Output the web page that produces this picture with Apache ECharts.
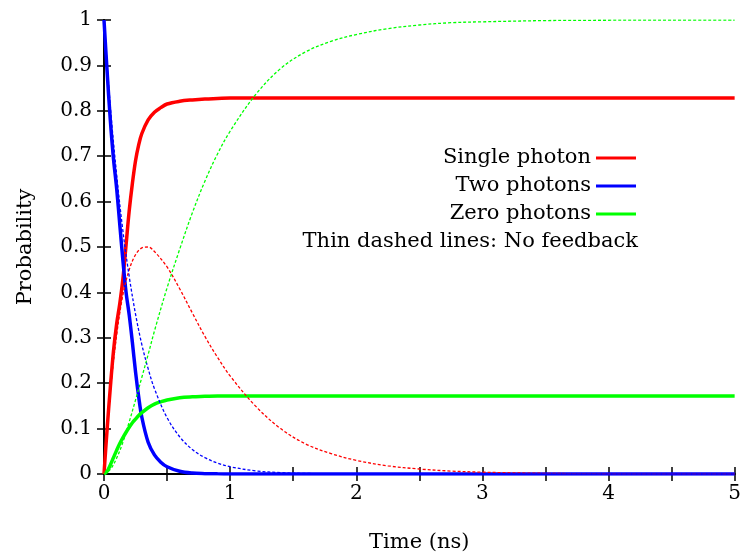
<!DOCTYPE html>
<html><head><meta charset="utf-8">
<script src="https://cdn.jsdelivr.net/npm/echarts@6/dist/echarts.min.js"></script>
<style>html,body{margin:0;padding:0;background:#fff}#c{width:744px;height:559px}</style>
</head><body><div id="c"></div>
<script>
// Time points (ns)
const tSolid = [0,0.025,0.05,0.075,0.1,0.125,0.15,0.175,0.2,0.225,0.25,0.275,0.3,0.35,0.4,0.45,0.5,0.6,0.7,0.8,0.9,1.0,1.5,2,3,4,5];
const redSolid = [0,0.10,0.19,0.27,0.33,0.375,0.43,0.505,0.58,0.64,0.69,0.725,0.75,0.78,0.797,0.807,0.815,0.821,0.824,0.826,0.827,0.828,0.828,0.828,0.828,0.828,0.828];
const blueSolid = [1,0.885,0.78,0.695,0.63,0.55,0.47,0.40,0.35,0.29,0.225,0.17,0.125,0.07,0.042,0.026,0.016,0.006,0.002,0.0008,0.0003,0.0001,0,0,0,0,0];
const greenSolid = [0,0.006,0.02,0.036,0.052,0.067,0.08,0.092,0.103,0.113,0.121,0.129,0.135,0.146,0.154,0.159,0.163,0.168,0.17,0.171,0.172,0.172,0.172,0.172,0.172,0.172,0.172];

const tDashed = [0,0.05,0.1,0.15,0.2,0.25,0.3,0.35,0.4,0.5,0.6,0.7,0.8,0.9,1.0,1.2,1.4,1.6,1.8,2.0,2.25,2.5,2.75,3,3.5,4,4.5,5];
const redDashed = [0,0.18,0.305,0.395,0.45,0.483,0.498,0.5,0.49,0.456,0.408,0.355,0.303,0.257,0.216,0.15,0.1,0.066,0.045,0.03,0.018,0.011,0.0065,0.004,0.0015,0.0005,0.0002,0.0001];
const blueDashed = [1,0.81,0.66,0.535,0.435,0.352,0.285,0.232,0.188,0.124,0.082,0.054,0.036,0.024,0.016,0.007,0.003,0.0013,0.0005,0.0002,0.0001,0,0,0,0,0,0,0];
const greenDashed = [0,0.01,0.035,0.07,0.115,0.163,0.213,0.263,0.315,0.41,0.495,0.575,0.645,0.705,0.755,0.835,0.893,0.93,0.953,0.968,0.981,0.989,0.994,0.996,0.9987,0.9995,0.9998,0.9999];

const seriesNames = ['Single photon','Two photons','Zero photons'];
const noteText = 'Thin dashed lines: No feedback';
const xTitle = 'Time (ns)';
const yTitle = 'Probability';

const FONT = 'DejaVu Serif';
const pairs = (t, v) => t.map((x, i) => [x, v[i]]);

function solid(name, color, vals) {
  return { name, type: 'line', data: pairs(tSolid, vals), symbol: 'none', smooth: 0.35,
    lineStyle: { color, width: 3.5 }, itemStyle: { color }, z: 2 };
}
function dashed(name, color, vals) {
  return { name, type: 'line', data: pairs(tDashed, vals), symbol: 'none', smooth: 0.35,
    lineStyle: { color, width: 1.3, type: [3, 2] }, itemStyle: { color }, z: 3 };
}

const axisCommon = {
  axisLine: { show: true, lineStyle: { color: '#000', width: 2 } },
  axisTick: { show: true, inside: true, length: 7, lineStyle: { color: '#000', width: 1.5 } },
  splitLine: { show: false }
};

const chart = echarts.init(document.getElementById('c'), null, { renderer: 'canvas' });
chart.setOption({
  animation: false,
  backgroundColor: '#fff',
  grid: { left: 104, right: 7, top: 20, bottom: 85 },
  xAxis: [
    Object.assign({ type: 'value', min: 0, max: 5, interval: 0.5, position: 'bottom',
      name: xTitle, nameLocation: 'middle', nameGap: 58,
      nameTextStyle: { fontFamily: FONT, fontSize: 21, color: '#000' },
      axisLabel: { margin: 10, fontFamily: FONT, fontSize: 20, color: '#000',
        formatter: v => (Math.abs(v - Math.round(v)) < 1e-9 ? String(Math.round(v)) : '') } }, axisCommon),
    Object.assign({ type: 'value', min: 0, max: 5, interval: 0.5, position: 'top',
      axisLabel: { show: false } }, axisCommon)
  ],
  yAxis: [
    Object.assign({ type: 'value', min: 0, max: 1, interval: 0.1, position: 'left',
      name: yTitle, nameLocation: 'middle', nameGap: 68, nameRotate: 90,
      nameTextStyle: { fontFamily: FONT, fontSize: 21, color: '#000' },
      axisLabel: { margin: 12, fontFamily: FONT, fontSize: 20, color: '#000',
        formatter: v => (v === 0 ? '0' : v === 1 ? '1' : v.toFixed(1)) } }, axisCommon),
    Object.assign({ type: 'value', min: 0, max: 1, interval: 0.1, position: 'right',
      axisLabel: { show: false } }, axisCommon)
  ],
  legend: {
    data: seriesNames, orient: 'vertical', align: 'right', right: 108, top: 147,
    itemWidth: 40, itemHeight: 14, itemGap: 6, padding: 0, icon: 'path://M0,6 L40,6 L40,9 L0,9 Z',
    textStyle: { fontFamily: FONT, fontSize: 21, color: '#000', lineHeight: 22 }
  },
  graphic: [{ type: 'text', right: 106, top: 231,
    style: { text: noteText, font: '21px "DejaVu Serif"', fill: '#000' } }],
  series: [
    solid(seriesNames[0], '#ff0000', redSolid),
    solid(seriesNames[1], '#0000ff', blueSolid),
    solid(seriesNames[2], '#00ff00', greenSolid),
    dashed('Single photon (no feedback)', '#ff0000', redDashed),
    dashed('Two photons (no feedback)', '#0000ff', blueDashed),
    dashed('Zero photons (no feedback)', '#00ff00', greenDashed)
  ]
});
</script></body></html>
